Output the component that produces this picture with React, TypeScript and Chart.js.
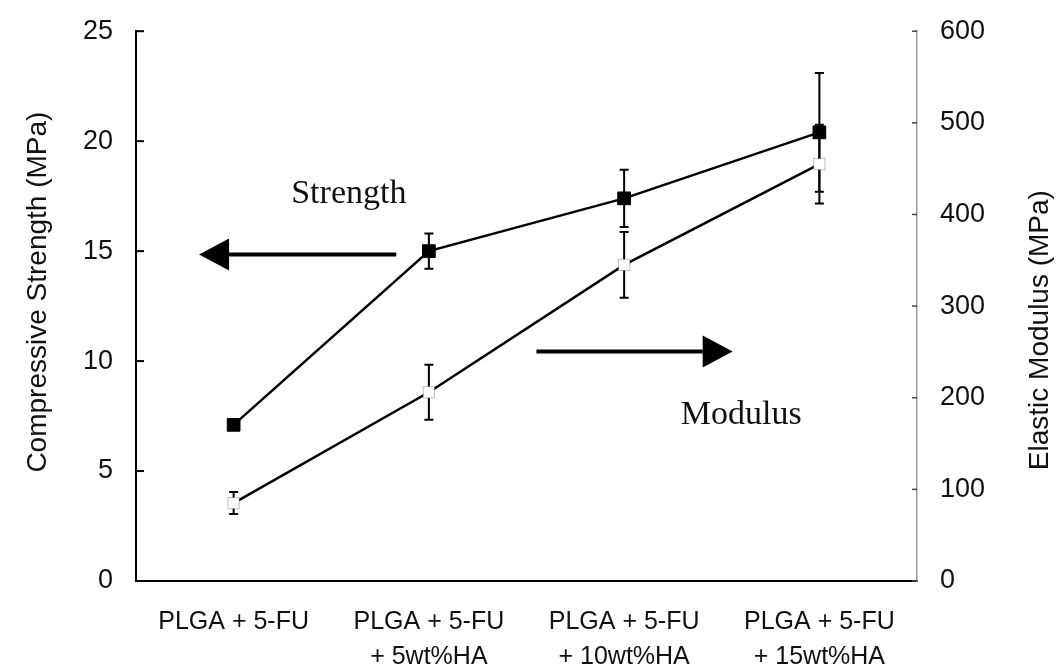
import React, { useEffect, useRef } from "react";
import { Chart, registerables } from "chart.js";

Chart.register(...registerables);

const categories: string[][] = [
  ["PLGA + 5-FU"],
  ["PLGA + 5-FU", "+ 5wt%HA"],
  ["PLGA + 5-FU", "+ 10wt%HA"],
  ["PLGA + 5-FU", "+ 15wt%HA"],
];
const strength = [7.1, 15.0, 17.4, 20.4];
const strengthErr = [0.2, 0.8, 1.3, 2.7];
const modulus = [85, 206, 345, 455];
const modulusErr = [12, 30, 36, 43];
const leftTicks = [0, 5, 10, 15, 20, 25];
const rightTicks = [0, 100, 200, 300, 400, 500, 600];

const SANS = "'Liberation Sans', Arial, sans-serif";
const SERIF = "'Liberation Serif', 'Times New Roman', serif";

const errorBarPlugin = {
  id: "errorBars",
  beforeDatasetsDraw(chart: any) {
    const ctx = chart.ctx;
    chart.data.datasets.forEach((ds: any, i: number) => {
      const err: number[] | undefined = ds.errors;
      if (!err) return;
      const meta = chart.getDatasetMeta(i);
      const ys = chart.scales[ds.yAxisID];
      ctx.save();
      ctx.strokeStyle = "#000";
      ctx.lineWidth = 2;
      meta.data.forEach((pt: any, j: number) => {
        const v = ds.data[j];
        const top = ys.getPixelForValue(v + err[j]);
        const bot = ys.getPixelForValue(v - err[j]);
        const x = pt.x;
        ctx.beginPath();
        ctx.moveTo(x, top);
        ctx.lineTo(x, bot);
        ctx.moveTo(x - 4.5, top);
        ctx.lineTo(x + 4.5, top);
        ctx.moveTo(x - 4.5, bot);
        ctx.lineTo(x + 4.5, bot);
        ctx.stroke();
      });
      ctx.restore();
    });
  },
};

const decorPlugin = {
  id: "decor",
  afterDraw(chart: any) {
    const ctx = chart.ctx;
    const { left, right, top, bottom } = chart.chartArea;
    const y = chart.scales.y;
    const y1 = chart.scales.y1;
    const x = chart.scales.x;
    ctx.save();
    // inward ticks
    ctx.strokeStyle = "#000";
    ctx.lineWidth = 2;
    leftTicks.forEach((t) => {
      const py = y.getPixelForValue(t);
      ctx.beginPath();
      ctx.moveTo(left, py);
      ctx.lineTo(left + 8, py);
      ctx.stroke();
    });
    ctx.strokeStyle = "#444";
    ctx.lineWidth = 1.5;
    rightTicks.forEach((t) => {
      const py = y1.getPixelForValue(t);
      ctx.beginPath();
      ctx.moveTo(right - 5, py);
      ctx.lineTo(right, py);
      ctx.stroke();
    });
    // axis titles
    ctx.fillStyle = "#111";
    ctx.font = `28px ${SANS}`;
    ctx.textAlign = "center";
    ctx.textBaseline = "middle";
    ctx.save();
    ctx.translate(38, (top + bottom) / 2 - 14);
    ctx.rotate(-Math.PI / 2);
    ctx.fillText("Compressive Strength (MPa)", 0, 0);
    ctx.restore();
    ctx.save();
    ctx.translate(1040, (top + bottom) / 2 + 24);
    ctx.rotate(-Math.PI / 2);
    ctx.fillText("Elastic Modulus (MPa)", 0, 0);
    ctx.restore();

    // annotations in data coordinates
    const px = (i: number) => x.getPixelForValue(0) + i * (x.getPixelForValue(1) - x.getPixelForValue(0));
    ctx.font = `34px ${SERIF}`;
    ctx.fillText("Strength", px(0.59), y.getPixelForValue(17.6));
    ctx.fillText("Modulus", px(2.6), y.getPixelForValue(7.55));

    const arrow = (x0: number, x1: number, yy: number) => {
      const dir = Math.sign(x1 - x0);
      const headLen = 30;
      const half = 16;
      ctx.strokeStyle = "#000";
      ctx.fillStyle = "#000";
      ctx.lineWidth = 4;
      ctx.beginPath();
      ctx.moveTo(x0, yy);
      ctx.lineTo(x1 - dir * headLen, yy);
      ctx.stroke();
      ctx.beginPath();
      ctx.moveTo(x1, yy);
      ctx.lineTo(x1 - dir * headLen, yy - half);
      ctx.lineTo(x1 - dir * headLen, yy + half);
      ctx.closePath();
      ctx.fill();
    };
    arrow(px(0.833), px(-0.177), y.getPixelForValue(14.85));
    arrow(px(1.551), px(2.556), y.getPixelForValue(10.43));
    ctx.restore();
  },
};

export default function App() {
  const ref = useRef<HTMLCanvasElement | null>(null);
  useEffect(() => {
    if (!ref.current) return;
    const chart = new Chart(ref.current, {
      type: "line",
      data: {
        labels: categories,
        datasets: [
          {
            label: "Strength",
            data: strength,
            errors: strengthErr,
            yAxisID: "y",
            borderColor: "#000",
            borderWidth: 2.5,
            pointStyle: "rect",
            pointRadius: 9,
            pointBackgroundColor: "#000",
            pointBorderColor: "#000",
            pointBorderWidth: 1,
            tension: 0,
          } as any,
          {
            label: "Modulus",
            data: modulus,
            errors: modulusErr,
            yAxisID: "y1",
            borderColor: "#000",
            borderWidth: 2.5,
            pointStyle: "rect",
            pointRadius: 8,
            pointBackgroundColor: "#fff",
            pointBorderColor: "rgba(0,0,0,0.25)",
            pointBorderWidth: 1,
            tension: 0,
          } as any,
        ],
      },
      options: {
        animation: false,
        responsive: false,
        events: [],
        layout: { padding: { top: 26, left: 0, right: 0, bottom: 0 } },
        plugins: { legend: { display: false }, tooltip: { enabled: false } },
        scales: {
          x: {
            type: "category",
            offset: true,
            grid: { display: false },
            border: { display: true, color: "#000", width: 2 },
            ticks: {
              color: "#111",
              font: { family: SANS, size: 25, lineHeight: 1.4 },
              padding: 16,
              maxRotation: 0,
              autoSkip: false,
            },
            afterFit: (s: any) => {
              s.height = 85;
            },
          },
          y: {
            position: "left",
            min: 0,
            max: 25,
            grid: { display: false },
            border: { display: true, color: "#000", width: 2 },
            ticks: {
              stepSize: 5,
              color: "#111",
              font: { family: SANS, size: 27 },
              padding: 15,
            },
            afterFit: (s: any) => {
              s.width = 136;
            },
          },
          y1: {
            position: "right",
            min: 0,
            max: 600,
            grid: { display: false },
            border: { display: true, color: "#999", width: 1.5, dash: [3, 7] },
            ticks: {
              stepSize: 100,
              color: "#111",
              font: { family: SANS, size: 27 },
              padding: 15,
            },
            afterFit: (s: any) => {
              s.width = 145;
            },
          },
        },
      } as any,
      plugins: [errorBarPlugin, decorPlugin],
    });
    return () => chart.destroy();
  }, []);
  return (
    <div style={{ position: "absolute", left: 0, top: 0, width: 1062, height: 666, background: "#fff" }}>
      <canvas ref={ref} width={1062} height={666} />
    </div>
  );
}
